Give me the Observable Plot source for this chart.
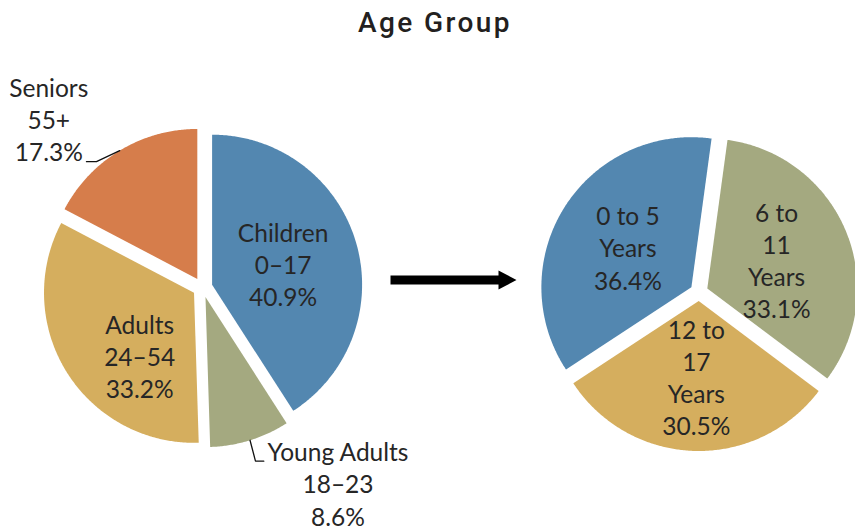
<!DOCTYPE html>
<html>
<head>
<meta charset="utf-8">
<script src="https://cdn.jsdelivr.net/npm/d3@7"></script>
<script src="https://cdn.jsdelivr.net/npm/@observablehq/plot@0.6"></script>
<style>
  html, body { margin: 0; padding: 0; background: #fff; }
  #chart svg { display: block; }
</style>
</head>
<body>
<div id="chart"></div>
<script>
// ---- Data ---------------------------------------------------------------
const title = "Age Group";

// Whole population by age group
const ageGroups   = ["Children", "Young Adults", "Adults", "Seniors"];
const ageRanges   = ["0–17", "18–23", "24–54", "55+"];
const agePercents = [40.9, 8.6, 33.2, 17.3];
const ageColors   = ["#5387b0", "#a4a980", "#d5ae5e", "#d67d4b"];

// Children broken down by age band
const childGroups   = ["0 to 5", "6 to 11", "12 to 17"];
const childNames    = ["0 to 5\nYears", "6 to\n11\nYears", "12 to\n17\nYears"];
const childPercents = [36.4, 33.1, 30.5];
const childColors   = ["#5387b0", "#a4a980", "#d5ae5e"];

// ---- Layout -------------------------------------------------------------
const W = 855, H = 531;
const FONT = "Lato, 'Open Sans', sans-serif";
const TEXT = "#262626";

// angles in degrees, clockwise from 12 o'clock
const leftPie  = {id: "L", cx: 202,   cy: 287,   r: 150, explode: 10, start: 0};
const rightPie = {id: "R", cx: 698.5, cy: 291.5, r: 150, explode: 9,  start: -123.3};

// label placement per slice: distance from pie centre, optional angle override
const leftLabelPlace  = [{dist: 84}, {dist: 238, angle: 145.3}, {dist: 93, angle: 222.5}, {dist: 228, angle: 317.6}];
const rightLabelPlace = [{dist: 84}, {dist: 84}, {dist: 85}];

// leader lines for the outside labels: knee and end, relative to the label anchor
const leftLeaders = [null,
  {knee: [-82.5, -22], end: [-74.2, -22]},
  null,
  {knee: [47.7, 42.5], end: [37.7, 42.5]}];

const arrow = {x0: 390, x1: 516, y: 279.5, shaft: 9, headLength: 18, headWidth: 19};

// ---- Geometry helpers ---------------------------------------------------
const rad = (a) => a * Math.PI / 180;
const polar = (cx, cy, a, d) => [cx + d * Math.sin(rad(a)), cy - d * Math.cos(rad(a))];

function slices(pie, keys, values, colors) {
  const total = d3.sum(values);
  let a = pie.start;
  return keys.map((key, i) => {
    const a0 = a, a1 = a + values[i] / total * 360;
    a = a1;
    return {pie, key, value: values[i], color: colors[i], a0, a1, mid: (a0 + a1) / 2};
  });
}

function slicePoints(s) {
  const {cx, cy, r, explode} = s.pie;
  const [ox, oy] = polar(cx, cy, s.mid, explode);
  const pts = [{id: s.pie.id + s.key, color: s.color, x: ox, y: oy}];
  const n = Math.max(2, Math.ceil((s.a1 - s.a0) / 0.5));
  for (let k = 0; k <= n; ++k) {
    const [x, y] = polar(ox, oy, s.a0 + (s.a1 - s.a0) * k / n, r);
    pts.push({id: s.pie.id + s.key, color: s.color, x, y});
  }
  return pts;
}

const left  = slices(leftPie, ageGroups, agePercents, ageColors);
const right = slices(rightPie, childGroups, childPercents, childColors);
const wedgePoints = [...left, ...right].flatMap(slicePoints);

// slice labels
const labels = [];
left.forEach((s, i) => {
  const p = leftLabelPlace[i];
  const [x, y] = polar(s.pie.cx, s.pie.cy, p.angle ?? s.mid, p.dist);
  labels.push({x, y, text: `${ageGroups[i]}\n${ageRanges[i]}\n${agePercents[i].toFixed(1)}%`});
});
right.forEach((s, i) => {
  const p = rightLabelPlace[i];
  const [x, y] = polar(s.pie.cx, s.pie.cy, p.angle ?? s.mid, p.dist);
  labels.push({x, y, text: `${childNames[i]}\n${childPercents[i].toFixed(1)}%`});
});

// leader lines from slice edge to outside labels
const leaderPoints = [];
left.forEach((s, i) => {
  const L = leftLeaders[i];
  if (!L) return;
  const lab = labels[i];
  const [sx, sy] = polar(s.pie.cx, s.pie.cy, s.mid, s.pie.r + s.pie.explode);
  const id = "leader" + i;
  leaderPoints.push({id, x: sx, y: sy},
    {id, x: lab.x + L.knee[0], y: lab.y + L.knee[1]},
    {id, x: lab.x + L.end[0], y: lab.y + L.end[1]});
});

// block arrow between the two pies
const {x0, x1, y: ay, shaft, headLength, headWidth} = arrow;
const arrowPoints = [
  [x0, ay - shaft / 2], [x1 - headLength, ay - shaft / 2], [x1 - headLength, ay - headWidth / 2],
  [x1, ay], [x1 - headLength, ay + headWidth / 2], [x1 - headLength, ay + shaft / 2], [x0, ay + shaft / 2]
].map(([x, y]) => ({x, y}));

// ---- Chart --------------------------------------------------------------
const chart = Plot.plot({
  width: W,
  height: H,
  margin: 0,
  x: {domain: [0, W], range: [0, W], axis: null},
  y: {domain: [0, H], range: [0, H], axis: null},
  color: {type: "identity"},
  style: {background: "#fff", fontFamily: FONT},
  marks: [
    Plot.line(wedgePoints, {x: "x", y: "y", z: "id", fill: "color", stroke: "none", curve: "linear-closed"}),
    Plot.line(arrowPoints, {x: "x", y: "y", fill: "#000", stroke: "none", curve: "linear-closed"}),
    Plot.line(leaderPoints, {x: "x", y: "y", z: "id", stroke: "#111", strokeWidth: 1.3}),
    Plot.text(labels, {x: "x", y: "y", text: "text", fontSize: 24.5, lineHeight: 1.31,
      fill: TEXT, fontFamily: FONT, textAnchor: "middle"}),
    Plot.text([title], {x: () => 434.5, y: () => 23, text: (d) => d, fontSize: 28, fontWeight: 500,
      fill: "#231f20", fontFamily: "Roboto, sans-serif", textAnchor: "middle"})
  ]
});

d3.select(chart).selectAll("text")
  .filter(function () { return this.textContent === title; })
  .style("letter-spacing", "2.4px");

document.getElementById("chart").appendChild(chart);
</script>
</body>
</html>
